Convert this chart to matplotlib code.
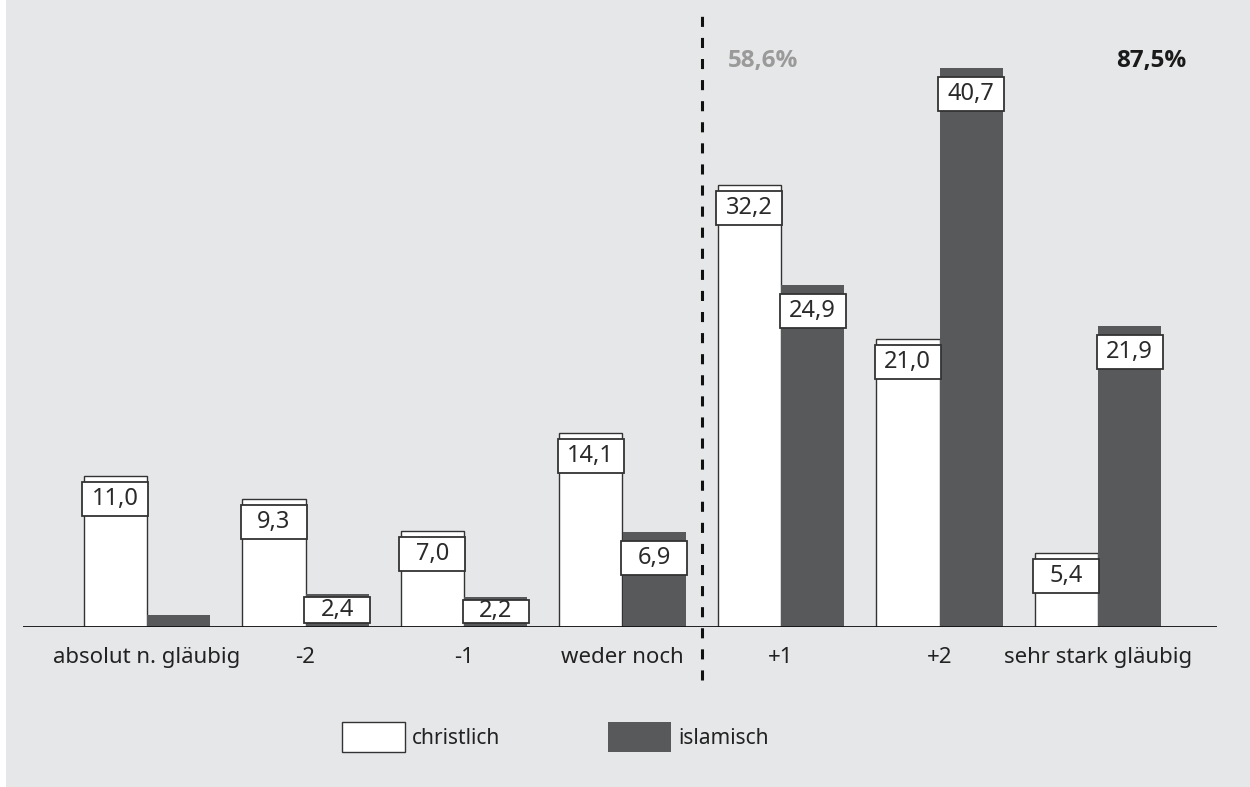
import numpy as np
import matplotlib.pyplot as plt
from matplotlib.patches import Rectangle

plt.rcParams['font.family'] = ['Noto Sans', 'DejaVu Sans']

categories = ['absolut n. gläubig', '-2', '-1', 'weder noch', '+1', '+2', 'sehr stark gläubig']
christlich = [11.0, 9.3, 7.0, 14.1, 32.2, 21.0, 5.4]
islamisch = [0.9, 2.4, 2.2, 6.9, 24.9, 40.7, 21.9]
islamisch_labels = [None, '2,4', '2,2', '6,9', '24,9', '40,7', '21,9']
share_labels = ['58,6%', '87,5%']

W, H = 1250, 787
bg = '#e6e7e8'
dark = '#58595b'
edge = '#333333'

fig = plt.figure(figsize=(12.5, 7.87), dpi=100, facecolor='white')
fig.patches.append(Rectangle((6 / W, 0), 1 - 6 / W, 1, transform=fig.transFigure,
                             facecolor=bg, edgecolor='none', zorder=-10))

# axes box: pixel extents of the plot area
x0, x1 = 23, 1217
ybase, ytop = 627, 15
ax = fig.add_axes([x0 / W, 1 - ybase / H, (x1 - x0) / W, (ybase - ytop) / H])
ax.set_facecolor('none')

px_per_unit = 13.73
ymax = (ybase - ytop) / px_per_unit
ax.set_ylim(0, ymax)
step = 158.5
ax.set_xlim((x0 - 147) / step, (x1 - 147) / step)

x = np.arange(len(categories))
bw = 0.4
ax.bar(x - bw / 2, christlich, width=bw, color='white', edgecolor=edge, linewidth=1.0, zorder=2)
ax.bar(x + bw / 2, islamisch, width=bw, color=dark, edgecolor='none', zorder=2)

def px(v):
    return v / px_per_unit

def value_box(xc, top, text, off):
    box_h = 34
    y_hi = top - px(off)
    y_lo = max(y_hi - px(box_h), px(4))
    xpad = 0.008
    ax.add_patch(Rectangle((xc - bw / 2 - xpad, y_lo), bw + 2 * xpad, y_hi - y_lo,
                           facecolor='white', edgecolor=edge, linewidth=1.3, zorder=3))
    ax.text(xc, (y_lo + y_hi) / 2, text, ha='center', va='center', fontsize=17,
            color='#2a2a2a', zorder=4)

for i, v in enumerate(christlich):
    value_box(x[i] - bw / 2, v, f'{v:.1f}'.replace('.', ','), 6)
for i, v in enumerate(islamisch):
    if islamisch_labels[i] is None:
        continue
    off = 9 if v > 5 else 3
    value_box(x[i] + bw / 2, v, islamisch_labels[i], off)

# baseline
ax.axhline(0, color='#111111', linewidth=1.3, zorder=5)
for s in ax.spines.values():
    s.set_visible(False)
ax.set_yticks([])
ax.set_xticks(x)
ax.set_xticklabels(categories, fontsize=16, color='#222222')
ax.tick_params(axis='x', length=0, pad=14.5)

# divider between negative and positive side
ax.plot([3.5, 3.5], [px(ybase - 680), ymax], color='#111111', linewidth=2.2,
        linestyle=(0, (3.3, 3.6)), clip_on=False, zorder=5)

bold_font = ['Open Sans', 'DejaVu Sans']
ax.text((728 - 147) / step, px(ybase - 61), share_labels[0], ha='left', va='center',
        fontsize=17.5, fontweight='bold', family=bold_font, color='#9a9a9a')
ax.text((1186 - 147) / step, px(ybase - 61), share_labels[1], ha='right', va='center',
        fontsize=17.5, fontweight='bold', family=bold_font, color='#1a1a1a')

# legend
for (lx, name, fc, ec) in [(342, 'christlich', 'white', edge), (608, 'islamisch', dark, 'none')]:
    fig.patches.append(Rectangle((lx / W, 1 - 752 / H), 63 / W, 30 / H, transform=fig.transFigure,
                                 facecolor=fc, edgecolor=ec, linewidth=1.0, zorder=3))
    fig.text((lx + 70) / W, 1 - 739 / H, name, ha='left', va='center', fontsize=15, color='#222222')

fig.savefig('out.png', dpi=100, facecolor='white')
